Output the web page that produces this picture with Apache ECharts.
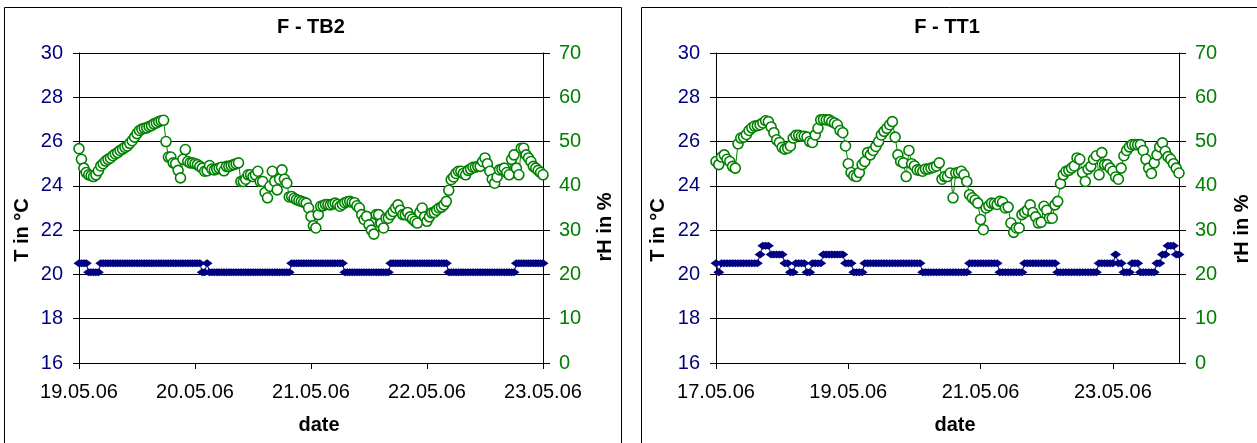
<!DOCTYPE html>
<html><head><meta charset="utf-8">
<script src="https://cdn.jsdelivr.net/npm/echarts@6/dist/echarts.min.js"></script>
<style>html,body{margin:0;padding:0;background:#fff}#c{width:1257px;height:443px}</style>
</head><body><div id="c"></div><script>
// ---- data ----
const FONT = '"Liberation Sans", Arial, sans-serif';
// F - TB2: half-hourly readings starting 19.05.06 00:00
const tb2StartDay = 19;
const tb2StepHours = 0.5;
const tb2RH = [48.4,46,44.0,43,42.5,42.3,42.1,42.5,43.4,44.5,
  45.0,45.6,46.0,46.3,46.8,47.2,47.5,48,48.3,48.7,
  49.0,49.6,50.2,51,51.8,52.5,52.8,53,53.1,53.4,
  53.6,54,54.2,54.5,54.7,54.8,50.0,46.5,46.5,45.2,
  45.0,43.5,41.8,46,48.2,45.5,45.2,45.2,45.0,44.8,
  44.4,44,43.3,43.4,44.6,43.8,43.6,43.8,44.0,44.2,
  43.4,44.4,44.4,44.6,44.8,45,45.2,41,41.0,41.5,
  42.5,42.5,42.1,42.5,43.3,41,41.0,38.5,37.3,39.9,
  43.3,41,39.1,41.5,43.6,41.5,40.6,37.5,37.6,37.2,
  36.9,36.7,36.5,36.3,36.1,35,33.1,31,30.5,33.5,
  35.4,35.5,35.8,35.8,35.7,35.9,36.1,35.8,35.4,35.8,
  36.2,36.4,36.5,36.3,36.2,35.5,35.0,33.5,32.4,33.1,
  31.2,30,29.1,33.5,33.5,31.5,30.5,32.7,32.7,33.5,
  34.2,35,35.7,34.5,33.5,33.5,34.0,33,32.5,32,
  31.6,34,35.0,33,32.0,33,33.9,34,34.5,35,
  35.2,35.7,36.5,39,41.4,42,42.8,43.3,43.3,42.8,
  42.5,43.5,43.8,44.2,44.2,44.4,44.4,45.5,46.3,45,
  43.3,41.5,40.6,42,43.6,43.8,44.0,43,42.5,46,
  47.0,44,42.5,48.5,48.5,47,46.3,45.5,44.4,44,
  43.5,43,42.5];
const tb2T = [20.5,20.5,20.5,20.5,20.1,20.1,20.1,20.1,20.1,20.5,
  20.5,20.5,20.5,20.5,20.5,20.5,20.5,20.5,20.5,20.5,
  20.5,20.5,20.5,20.5,20.5,20.5,20.5,20.5,20.5,20.5,
  20.5,20.5,20.5,20.5,20.5,20.5,20.5,20.5,20.5,20.5,
  20.5,20.5,20.5,20.5,20.5,20.5,20.5,20.5,20.5,20.5,
  20.5,20.1,20.1,20.5,20.1,20.1,20.1,20.1,20.1,20.1,
  20.1,20.1,20.1,20.1,20.1,20.1,20.1,20.1,20.1,20.1,
  20.1,20.1,20.1,20.1,20.1,20.1,20.1,20.1,20.1,20.1,
  20.1,20.1,20.1,20.1,20.1,20.1,20.1,20.1,20.5,20.5,
  20.5,20.5,20.5,20.5,20.5,20.5,20.5,20.5,20.5,20.5,
  20.5,20.5,20.5,20.5,20.5,20.5,20.5,20.5,20.5,20.5,
  20.1,20.1,20.1,20.1,20.1,20.1,20.1,20.1,20.1,20.1,
  20.1,20.1,20.1,20.1,20.1,20.1,20.1,20.1,20.1,20.5,
  20.5,20.5,20.5,20.5,20.5,20.5,20.5,20.5,20.5,20.5,
  20.5,20.5,20.5,20.5,20.5,20.5,20.5,20.5,20.5,20.5,
  20.5,20.5,20.5,20.1,20.1,20.1,20.1,20.1,20.1,20.1,
  20.1,20.1,20.1,20.1,20.1,20.1,20.1,20.1,20.1,20.1,
  20.1,20.1,20.1,20.1,20.1,20.1,20.1,20.1,20.1,20.1,
  20.1,20.5,20.5,20.5,20.5,20.5,20.5,20.5,20.5,20.5,
  20.5,20.5,20.5];
// F - TT1: hourly readings starting 17.05.06 00:00
const tt1StartDay = 17;
const tt1StepHours = 1;
const tt1RH = [45.5,44.8,46.5,47.0,46.0,45.5,44.4,44.0,49.5,50.8,
  51.0,51.6,52.5,53.1,53.5,53.6,53.8,54.2,54.7,54.5,
  53.3,52.0,50.4,49.8,48.7,48.3,48.5,49.0,50.8,51.4,
  51.4,51.2,51.2,51.0,50.0,49.8,51.5,53.0,54.9,55.0,
  54.9,54.9,54.5,54.2,53.8,52.5,52.0,49.0,45.0,43.0,
  42.3,42.1,43.0,44.8,45.5,47.5,47.0,48.0,48.9,50.0,
  51.5,52.3,53.0,53.8,54.5,51.0,47.0,45.5,45.2,42.1,
  48.0,45.0,44.5,43.6,43.5,43.3,43.8,43.8,44.0,44.2,
  44.5,45.2,41.5,42.1,42.1,42.9,37.3,42.9,43.0,43.3,
  42.5,41.0,38.0,37.3,36.8,36.1,32.4,30.1,35.0,35.5,
  36.1,36.0,35.8,36.5,36.3,35.0,35.2,31.6,29.5,30.5,
  30.5,33.5,34.0,34.5,35.7,34.0,33.0,31.6,31.8,35.4,
  34.5,32.7,32.7,35.7,36.5,40.5,42.5,43.3,43.5,44.0,
  44.5,46.3,46.0,43.0,41.0,43.8,44.4,46.0,46.8,42.5,
  47.5,44.8,44.8,44.0,43.3,42.0,41.5,44.0,46.8,48.0,
  48.8,49.3,49.3,49.3,49.3,48.0,46.0,44.0,42.8,45.2,
  47.0,48.8,49.7,47.8,46.6,46.0,45.0,44.0,42.9];
const tt1T = [20.5,20.1,20.5,20.5,20.5,20.5,20.5,20.5,20.5,20.5,
  20.5,20.5,20.5,20.5,20.5,20.5,20.9,21.3,21.3,21.3,
  20.9,20.9,20.9,20.9,20.9,20.5,20.5,20.1,20.1,20.5,
  20.5,20.5,20.5,20.1,20.1,20.5,20.5,20.5,20.5,20.9,
  20.9,20.9,20.9,20.9,20.9,20.9,20.9,20.5,20.5,20.5,
  20.1,20.1,20.1,20.1,20.5,20.5,20.5,20.5,20.5,20.5,
  20.5,20.5,20.5,20.5,20.5,20.5,20.5,20.5,20.5,20.5,
  20.5,20.5,20.5,20.5,20.5,20.1,20.1,20.1,20.1,20.1,
  20.1,20.1,20.1,20.1,20.1,20.1,20.1,20.1,20.1,20.1,
  20.1,20.1,20.5,20.5,20.5,20.5,20.5,20.5,20.5,20.5,
  20.5,20.5,20.5,20.1,20.1,20.1,20.1,20.1,20.1,20.1,
  20.1,20.1,20.5,20.5,20.5,20.5,20.5,20.5,20.5,20.5,
  20.5,20.5,20.5,20.5,20.1,20.1,20.1,20.1,20.1,20.1,
  20.1,20.1,20.1,20.1,20.1,20.1,20.1,20.1,20.1,20.5,
  20.5,20.5,20.5,20.5,20.5,20.9,20.5,20.5,20.1,20.1,
  20.1,20.5,20.5,20.5,20.1,20.1,20.1,20.1,20.1,20.1,
  20.5,20.5,20.9,20.9,21.3,21.3,21.3,20.9,20.9];
const tb2Ticks = [19,20,21,22,23];
const tt1Ticks = [17,19,21,23];
const titles = ['F - TB2','F - TT1'];
const tName = 'T in °C', rhName = 'rH in %', xName = 'date';

function pairs(start, step, vals){ return vals.map((v,i)=>[start + i*step/24, v]); }
function dayLabel(v){ return (v<10?'0':'') + v + '.05.06'; }

const chart = echarts.init(document.getElementById('c'));
function xAx(grid, min, max, ticks){
  return {gridIndex:grid,type:'value',min:min,max:max,interval:1,
    axisLine:{show:true,lineStyle:{color:'#000',width:1}},
    axisTick:{show:true,length:6,customValues:ticks,lineStyle:{color:'#000'}},
    axisLabel:{customValues:ticks,formatter:dayLabel,fontSize:20,color:'#000',margin:19,fontFamily:FONT},
    splitLine:{show:false}};
}
function yT(grid){
  return {gridIndex:grid,type:'value',min:16,max:30,interval:2,position:'left',
    axisLine:{show:true,lineStyle:{color:'#000',width:1}},
    axisTick:{show:true,length:6,lineStyle:{color:'#000'}},
    axisLabel:{fontSize:20,color:'#000080',margin:16,fontFamily:FONT},
    splitLine:{show:true,lineStyle:{color:'#000',width:1}}};
}
function yRH(grid){
  return {gridIndex:grid,type:'value',min:0,max:70,interval:10,position:'right',
    axisLine:{show:true,lineStyle:{color:'#000',width:1}},
    axisTick:{show:true,length:7,lineStyle:{color:'#000'}},
    axisLabel:{fontSize:20,color:'#008000',margin:16,fontFamily:FONT},
    splitLine:{show:false}};
}
function rhSeries(xi, yi, data){
  return {type:'line',xAxisIndex:xi,yAxisIndex:yi,data:data,symbol:'circle',symbolSize:10,showAllSymbol:true,
    itemStyle:{color:'#fff',borderColor:'#008000',borderWidth:1.6},lineStyle:{color:'#008000',width:1},z:3};
}
function tSeries(xi, yi, data){
  return {type:'line',xAxisIndex:xi,yAxisIndex:yi,data:data,symbol:'diamond',symbolSize:[11,8],showAllSymbol:true,
    itemStyle:{color:'#000080'},lineStyle:{color:'#000080',width:1},z:2};
}
function txt(x,y,s,rot){
  return {type:'text',x:x,y:y,rotation:rot||0,style:{text:s,fill:'#000',
    font:'bold 20px '+FONT,align:'center',verticalAlign:'middle'}};
}
chart.setOption({
  animation:false,
  grid:[{left:79,top:53,width:464,height:310},{left:716,top:53,width:463,height:310}],
  xAxis:[xAx(0,19,23,tb2Ticks), xAx(1,17,24,tt1Ticks)],
  yAxis:[yT(0), yRH(0), yT(1), yRH(1)],
  series:[
    tSeries(0,0,pairs(tb2StartDay,tb2StepHours,tb2T)),
    rhSeries(0,1,pairs(tb2StartDay,tb2StepHours,tb2RH)),
    tSeries(1,2,pairs(tt1StartDay,tt1StepHours,tt1T)),
    rhSeries(1,3,pairs(tt1StartDay,tt1StepHours,tt1RH))
  ],
  graphic:[
    {type:'rect',shape:{x:4.5,y:7.5,width:617,height:500},style:{fill:null,stroke:'#000',lineWidth:1},silent:true},
    {type:'rect',shape:{x:641.5,y:7.5,width:700,height:500},style:{fill:null,stroke:'#000',lineWidth:1},silent:true},
    txt(311,27,titles[0]), txt(947,27,titles[1]),
    txt(22,230,tName,Math.PI/2), txt(605,227,rhName,Math.PI/2),
    txt(658,230,tName,Math.PI/2), txt(1242,229,rhName,Math.PI/2),
    txt(319,425,xName), txt(955,425,xName)
  ]
});
</script></body></html>
